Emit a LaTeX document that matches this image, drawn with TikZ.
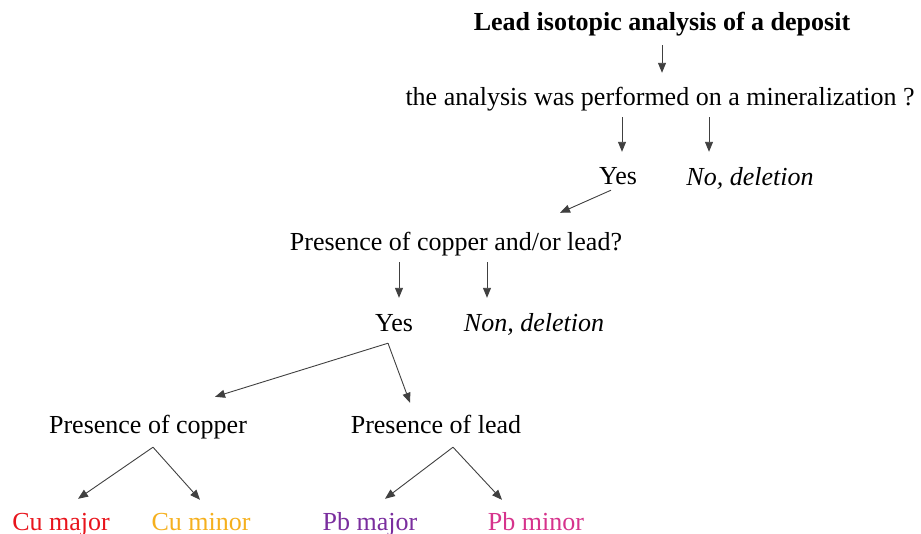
\documentclass[tikz,border=0pt]{standalone}
\usepackage{fontspec}
\setmainfont{Liberation Serif}
\usepackage{xcolor}
\usepackage{tikz}
\usetikzlibrary{arrows.meta}
\definecolor{cured}{HTML}{E8141C}
\definecolor{cugold}{HTML}{F5B01E}
\definecolor{pbpurple}{HTML}{7A2E9E}
\definecolor{pbpink}{HTML}{D6338C}

\begin{document}
\begin{tikzpicture}[x=1pt,y=-1pt,
    txt/.style={inner sep=0pt,text height=18pt,text depth=6pt,anchor=base,font=\fontsize{26}{30}\selectfont},
    arr/.style={draw=black!75,line width=0.9pt,-{Triangle[length=10pt,width=8pt]}}]
    \useasboundingbox (0,0) rectangle (921,533);
    \node[txt] (lia) at (662,30.5) {\textbf{Lead isotopic analysis of a deposit}};
    \node[txt] (q1) at (660,105) {the analysis was performed on a mineralization ?};
    \node[txt] (yes1) at (618,184) {Yes};
    \node[txt] (no1) at (750,185) {\textit{No, deletion}};
    \node[txt] (q2) at (456,250) {Presence of copper and/or lead?};
    \node[txt] (yes2) at (394,331) {Yes};
    \node[txt] (non2) at (534,331) {\textit{Non, deletion}};
    \node[txt] (pcu) at (148,433) {Presence of copper};
    \node[txt] (ppb) at (436,433) {Presence of lead};
    \node[txt,text=cured] (cumaj) at (61,530) {Cu major};
    \node[txt,text=cugold] (cumin) at (201,530) {Cu minor};
    \node[txt,text=pbpurple] (pbmaj) at (370,530) {Pb major};
    \node[txt,text=pbpink] (pbmin) at (536,530) {Pb minor};
    % first question
    \draw[arr,shorten <=8.5pt,shorten >=14pt] (lia.south) -- (lia.south |- q1.north);
    \draw[arr,shorten <=6pt,shorten >=14pt] ([xshift=4pt]yes1.north |- q1.south) -- ([xshift=4pt]yes1.north);
    \draw[arr,shorten <=6pt,shorten >=15pt] ([xshift=-41pt]no1.north |- q1.south) -- ([xshift=-41pt]no1.north);
    \draw[arr] ([xshift=-7pt]yes1.south) -- ([xshift=104pt,yshift=19pt]q2.north);
    % second question
    \draw[arr,shorten <=6pt,shorten >=15pt] ([xshift=5pt]yes2.north |- q2.south) -- ([xshift=5pt]yes2.north);
    \draw[arr,shorten <=6pt,shorten >=15pt] ([xshift=-47pt]non2.north |- q2.south) -- ([xshift=-47pt]non2.north);
    \coordinate (fork1) at ([xshift=-6pt,yshift=-6pt]yes2.south);
    \draw[arr] (fork1) -- ([xshift=67pt,yshift=18pt]pcu.north);
    \draw[arr] (fork1) -- ([xshift=-26pt,yshift=12pt]ppb.north);
    % copper and lead
    \coordinate (fork2) at ([xshift=5pt,yshift=-8pt]pcu.south);
    \draw[arr] (fork2) -- ([xshift=17pt,yshift=13pt]cumaj.north);
    \draw[arr] (fork2) -- ([xshift=-1pt,yshift=12pt]cumin.north);
    \coordinate (fork3) at ([xshift=17pt,yshift=-8pt]ppb.south);
    \draw[arr] (fork3) -- ([xshift=15pt,yshift=13pt]pbmaj.north);
    \draw[arr] (fork3) -- ([xshift=-34pt,yshift=12pt]pbmin.north);
\end{tikzpicture}
\end{document}
